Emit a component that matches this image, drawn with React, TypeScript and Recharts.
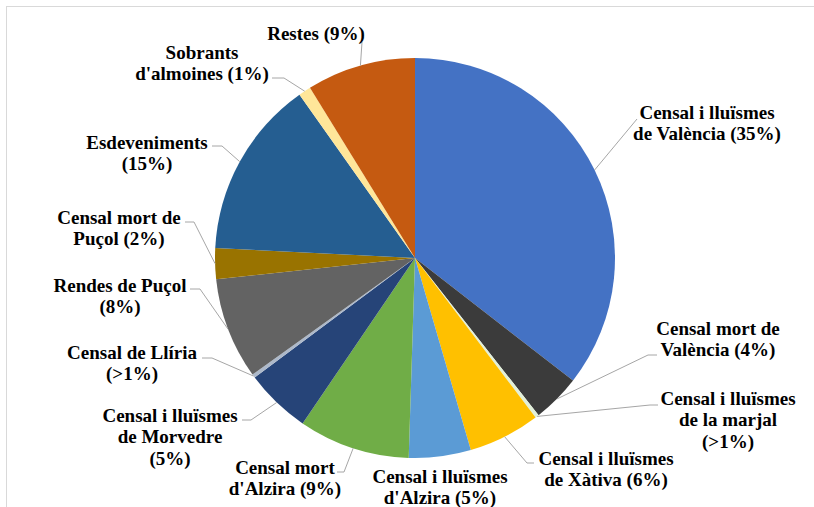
import React from 'react';
import { PieChart, Pie, Cell } from 'recharts';

// shares of each income source (percent)
const names = [
  'Censal i lluïsmes de València',
  'Censal mort de València',
  'Censal i lluïsmes de la marjal',
  'Censal i lluïsmes de Xàtiva',
  "Censal i lluïsmes d'Alzira",
  "Censal mort d'Alzira",
  'Censal i lluïsmes de Morvedre',
  'Censal de Llíria',
  'Rendes de Puçol',
  'Censal mort de Puçol',
  'Esdeveniments',
  "Sobrants d'almoines",
  'Restes',
];
const values = [35.5, 3.9, 0.3, 5.8, 5, 9, 5.3, 0.3, 8.2, 2.5, 14.4, 1.0, 8.8];
const shown = ['35%', '4%', '>1%', '6%', '5%', '9%', '5%', '>1%', '8%', '2%', '15%', '1%', '9%'];

// label text split in lines as printed on the chart
const labelLines = [
  ['Censal i lluïsmes', 'de València (35%)'],
  ['Censal mort de', 'València (4%)'],
  ['Censal i lluïsmes', 'de la marjal', '(>1%)'],
  ['Censal i lluïsmes', 'de Xàtiva (6%)'],
  ['Censal i lluïsmes', "d'Alzira (5%)"],
  ['Censal mort', "d'Alzira (9%)"],
  ['Censal i lluïsmes', 'de Morvedre', '(5%)'],
  ['Censal de Llíria', '(>1%)'],
  ['Rendes de Puçol', '(8%)'],
  ['Censal mort de', 'Puçol (2%)'],
  ['Esdeveniments', '(15%)'],
  ['Sobrants', "d'almoines (1%)"],
  ['Restes (9%)'],
];

const colors = [
  '#4472C4', '#3B3B3B', '#E2F0D9', '#FFC000', '#5B9BD5', '#70AD47', '#264478',
  '#ADB9CA', '#636363', '#997300', '#255E91', '#FFE699', '#C55A11',
];

// label placement: text centre x, first line y, leader points (after the slice edge)
const labelLayout: { x: number; y: number; leader: number[][] }[] = [
  { x: 707, y: 112, leader: [[637, 119]] },
  { x: 718, y: 328, leader: [[648, 355], [657, 355]] },
  { x: 728, y: 398, leader: [[650, 405], [658, 405]] },
  { x: 606, y: 458, leader: [[527, 463], [534, 463]] },
  { x: 440, y: 476, leader: [] },
  { x: 285, y: 467, leader: [[344, 472], [337, 472]] },
  { x: 170, y: 415, leader: [[251, 420], [242, 420]] },
  { x: 132, y: 352, leader: [[212, 358], [202, 358]] },
  { x: 120, y: 285, leader: [[200, 289], [190, 289]] },
  { x: 119, y: 217, leader: [[194, 222], [185, 222]] },
  { x: 147, y: 142, leader: [[222, 146], [212, 146]] },
  { x: 202, y: 52, leader: [[284, 78], [272, 78]] },
  { x: 316, y: 33, leader: [[362, 42]] },
];

const data = names.map((name, i) => ({ name, value: values[i], shown: shown[i] }));

const RAD = Math.PI / 180;
const FONT = '"Liberation Serif", "Times New Roman", serif';

const renderLabel = (props: any) => {
  const { cx, cy, midAngle, outerRadius, index } = props;
  const sx = cx + outerRadius * Math.cos(-midAngle * RAD);
  const sy = cy + outerRadius * Math.sin(-midAngle * RAD);
  const lay = labelLayout[index];
  const pts = [[sx, sy], ...lay.leader];
  return (
    <g key={`lbl-${index}`}>
      {lay.leader.length > 0 && (
        <polyline
          points={pts.map((p) => p.join(',')).join(' ')}
          fill="none"
          stroke="#A6A6A6"
          strokeWidth={1}
        />
      )}
      <text
        x={lay.x}
        y={lay.y}
        textAnchor="middle"
        style={{ fontFamily: FONT, fontWeight: 700, fontSize: 19 }}
        fill="#000"
      >
        {labelLines[index].map((line, j) => (
          <tspan key={j} x={lay.x} y={lay.y + j * 21.5} dominantBaseline="central">
            {line}
          </tspan>
        ))}
      </text>
    </g>
  );
};

export default function App() {
  return (
    <div style={{ position: 'absolute', left: 0, top: 0, width: 814, height: 507, overflow: 'hidden', background: '#fff' }}>
      <div
        style={{
          position: 'absolute',
          left: 6,
          top: 6,
          width: 900,
          height: 600,
          border: '1px solid #D9D9D9',
        }}
      />
      <div style={{ position: 'absolute', left: 0, top: 0 }}>
        <PieChart width={814} height={507} margin={{ top: 0, right: 0, bottom: 0, left: 0 }}>
          <Pie
            data={data}
            dataKey="value"
            nameKey="name"
            cx={415}
            cy={258}
            outerRadius={200}
            startAngle={90}
            endAngle={-270}
            stroke="none"
            label={renderLabel}
            labelLine={false}
            isAnimationActive={false}
          >
            {data.map((d, i) => (
              <Cell key={d.name} fill={colors[i]} />
            ))}
          </Pie>
        </PieChart>
      </div>
    </div>
  );
}
